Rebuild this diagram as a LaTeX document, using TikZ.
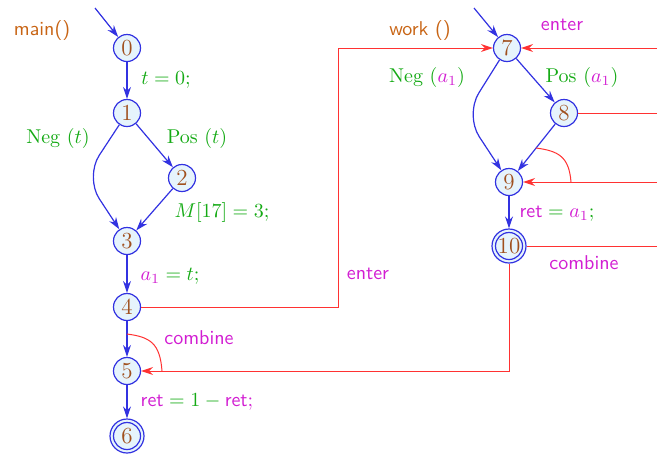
\documentclass[tikz,border=0pt]{standalone}
\usetikzlibrary{arrows.meta}
\definecolor{edgeblue}{RGB}{50,50,225}
\definecolor{nodefill}{RGB}{230,244,252}
\definecolor{numbrown}{RGB}{160,80,30}
\definecolor{grn}{RGB}{20,170,20}
\definecolor{mag}{RGB}{210,30,210}
\definecolor{org}{RGB}{200,100,20}
\definecolor{redline}{RGB}{255,50,50}
\begin{document}
\begin{tikzpicture}[x=0.5pt,y=-0.5pt,
  state/.style={circle,draw=edgeblue,fill=nodefill,line width=0.6pt,minimum size=13.5pt,inner sep=0pt,text=numbrown,font=\fontsize{11.5}{13}\selectfont},
  finalstate/.style={state,minimum size=17pt},
  flow/.style={draw=edgeblue,line width=0.6pt,-{Stealth[length=6pt,width=4pt]}},
  call/.style={draw=redline,line width=0.5pt},
  callarrow/.style={call,-{Stealth[length=6pt,width=4pt]}},
  glab/.style={text=grn,font=\normalsize},
  mlab/.style={text=mag,font=\sffamily},
  olab/.style={text=org,font=\sffamily}]
\useasboundingbox (0,0) rectangle (657,456);
% main
\node[state] (n0) at (127,48) {0};
\node[state] (n1) at (127,113) {1};
\node[state] (n2) at (182,178) {2};
\node[state] (n3) at (127,241) {3};
\node[state] (n4) at (127,307) {4};
\node[state] (n5) at (127,371) {5};
\node[finalstate] (n6) at (127,436) {};
\draw[edgeblue,line width=0.6pt] (n6.center) circle (13.5);
\node[text=numbrown,font=\fontsize{11.5}{13}\selectfont] at (n6.center) {6};
% work
\node[state] (n7) at (507,48) {7};
\node[state] (n8) at (564,113) {8};
\node[state] (n9) at (509,182) {9};
\node[finalstate] (n10) at (509,246) {};
\draw[edgeblue,line width=0.6pt] (n10.center) circle (13.5);
\node[text=numbrown,font=\fontsize{11.5}{13}\selectfont] at (n10.center) {10};
% coordinates
\coordinate (s0) at (95,8);
\coordinate (s7) at (474,8);
\coordinate (r7) at (657,48);
\coordinate (r8) at (657,113);
\coordinate (r9) at (657,182);
\coordinate (r10) at (657,246);
\coordinate (k4) at (338,307);
\coordinate (k7) at (338,48);
\coordinate (k10) at (509,371);
\coordinate (b13) at (85,177);
\coordinate (b79) at (465,115);
\coordinate (c45) at (127,334);
\coordinate (c5) at (162,371);
\coordinate (c89) at (536,148);
\coordinate (c9) at (571,182);
% blue edges
\draw[flow] (s0) -- (n0);
\draw[flow] (n0) -- (n1);
\draw[flow] (n1) -- (n2);
\draw[flow,rounded corners=13pt] (n1) -- (b13) -- (n3);
\draw[flow] (n2) -- (n3);
\draw[flow] (n3) -- (n4);
\draw[flow] (n4) -- (n5);
\draw[flow] (n5) -- (n6);
\draw[flow] (s7) -- (n7);
\draw[flow] (n7) -- (n8);
\draw[flow,rounded corners=13pt] (n7) -- (b79) -- (n9);
\draw[flow] (n8) -- (n9);
\draw[flow] (n9) -- (n10);
% red edges
\draw[callarrow] (n4) -- (k4) -- (k7) -- (n7);
\draw[callarrow] (r7) -- (n7);
\draw[call] (n8) -- (r8);
\draw[callarrow] (r9) -- (n9);
\draw[call] (n10) -- (r10);
\draw[callarrow] (n10) -- (k10) -- (n5);
\draw[call] (c45) .. controls (150,337) and (160,343) .. (c5);
\draw[call] (c89) .. controls (559,151) and (569,157) .. (c9);
% labels
\node[olab] (lmain) at (42,30) {main()};
\node[olab] (lwork) at (420,30) {work ()};
\node[glab] (l01) at (166,80) {$t = 0;$};
\node[glab] (lneg1) at (58,138) {Neg $(t)$};
\node[glab] (lpos1) at (197,138) {Pos $(t)$};
\node[glab] (l23) at (222,212) {$M[17] = 3;$};
\node[glab] (l34) at (170,276) {$\textcolor{mag}{a_1} = t;$};
\node[mlab] (lent1) at (368,274) {enter};
\node[mlab] (lcomb1) at (199,338) {combine};
\node[glab] (l56) at (197,402) {$\textcolor{mag}{\textsf{ret}} = 1 - \textcolor{mag}{\textsf{ret};}$};
\node[mlab] (lent2) at (562,25) {enter};
\node[glab] (lneg2) at (427,77) {Neg $(\textcolor{mag}{a_1})$};
\node[glab] (lpos2) at (582,77) {Pos $(\textcolor{mag}{a_1})$};
\node[glab] (l910) at (557,214) {$\textcolor{mag}{\textsf{ret}} = \textcolor{mag}{a_1};$};
\node[mlab] (lcomb2) at (584,263) {combine};
\end{tikzpicture}
\end{document}
